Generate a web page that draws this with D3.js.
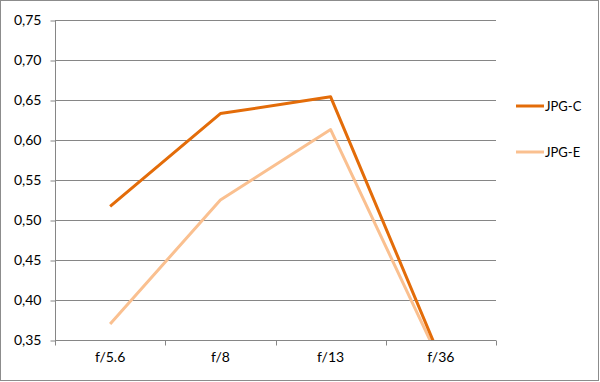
<!DOCTYPE html>
<html>
<head>
<meta charset="utf-8">
<script src="https://cdn.jsdelivr.net/npm/d3@7"></script>
<style>
  body { margin: 0; background: #fff; }
  text { font-family: Lato, "Open Sans", sans-serif; fill: #000; }
</style>
</head>
<body>
<div id="chart"></div>
<script>
// data
const categories = ["f/5.6", "f/8", "f/13", "f/36"]
const seriesNames = ["JPG-C", "JPG-E"]
const jpgC = [0.517, 0.633, 0.654, 0.326]
const jpgE = [0.370, 0.525, 0.613, 0.321]
const yTicks = [0.35, 0.40, 0.45, 0.50, 0.55, 0.60, 0.65, 0.70, 0.75]
const colors = ["#e36c09", "#fac090"]

const W = 600, H = 382
const margin = { top: 20, right: 104, bottom: 42, left: 55 }

const svg = d3.select("#chart").append("svg")
    .attr("width", W)
    .attr("height", H)

// chart border
svg.append("rect")
    .attr("x", 0.5).attr("y", 0.5)
    .attr("width", W - 2).attr("height", H - 2)
    .attr("fill", "#fff")
    .attr("stroke", "#8c8c8c")

const x = d3.scaleBand()
    .domain(categories)
    .range([margin.left, W - margin.right])

const y = d3.scaleLinear()
    .domain([0.35, 0.75])
    .range([H - margin.bottom, margin.top])

const fmt = d => d3.format(".2f")(d).replace(".", ",")

// gridlines
svg.append("g")
    .selectAll("line")
    .data(yTicks.slice(1))
    .enter().append("line")
    .attr("x1", margin.left).attr("x2", W - margin.right)
    .attr("y1", d => Math.round(y(d)) + 0.5)
    .attr("y2", d => Math.round(y(d)) + 0.5)
    .attr("stroke", "#868686")

// y axis
const yAxis = svg.append("g")
    .attr("transform", "translate(" + (margin.left + 0.5) + ",0.5)")
    .call(d3.axisLeft(y).tickValues(yTicks).tickFormat(fmt).tickSize(5).tickPadding(9))
yAxis.selectAll("path, line").attr("stroke", "#868686")
yAxis.select(".domain").attr("d", "M0," + y(0.75) + "V" + y(0.35))
yAxis.selectAll("text").style("font-size", "14px")

// x axis
const xAxis = svg.append("g")
    .attr("transform", "translate(0," + (Math.round(y(0.35)) + 0.5) + ")")
    .call(d3.axisBottom(x).tickSize(0).tickPadding(12))
xAxis.select(".domain").attr("stroke", "#868686").attr("d", "M" + margin.left + ",0H" + (W - margin.right))
xAxis.selectAll("text").style("font-size", "14px")
// tick marks on category boundaries
const bounds = categories.map(c => x(c)).concat([x(categories[categories.length - 1]) + x.bandwidth()])
xAxis.selectAll(".bound")
    .data(bounds)
    .enter().append("line")
    .attr("class", "bound")
    .attr("x1", d => Math.round(d) + 0.5).attr("x2", d => Math.round(d) + 0.5)
    .attr("y1", 0).attr("y2", 5)
    .attr("stroke", "#868686")

// clip to plot area
svg.append("clipPath").attr("id", "plot")
    .append("rect")
    .attr("x", margin.left).attr("y", margin.top)
    .attr("width", W - margin.left - margin.right)
    .attr("height", y(0.35) - margin.top)

const line = d3.line()
    .x((d, i) => x(categories[i]) + x.bandwidth() / 2)
    .y(d => y(d))

const series = [jpgE, jpgC]
const seriesColors = [colors[1], colors[0]]
svg.append("g")
    .attr("clip-path", "url(#plot)")
    .selectAll("path")
    .data(series)
    .enter().append("path")
    .attr("d", line)
    .attr("fill", "none")
    .attr("stroke", (d, i) => seriesColors[i])
    .attr("stroke-width", 3)
    .attr("stroke-linejoin", "round")

// legend
const legend = svg.selectAll(".legend")
    .data(seriesNames)
    .enter().append("g")
    .attr("class", "legend")
    .attr("transform", (d, i) => "translate(516," + (106 + i * 46) + ")")
legend.append("line")
    .attr("x1", 0).attr("x2", 28)
    .attr("stroke", (d, i) => colors[i])
    .attr("stroke-width", 3)
legend.append("text")
    .attr("x", 29).attr("y", 4.5)
    .style("font-size", "13px")
    .text(d => d)
</script>
</body>
</html>
